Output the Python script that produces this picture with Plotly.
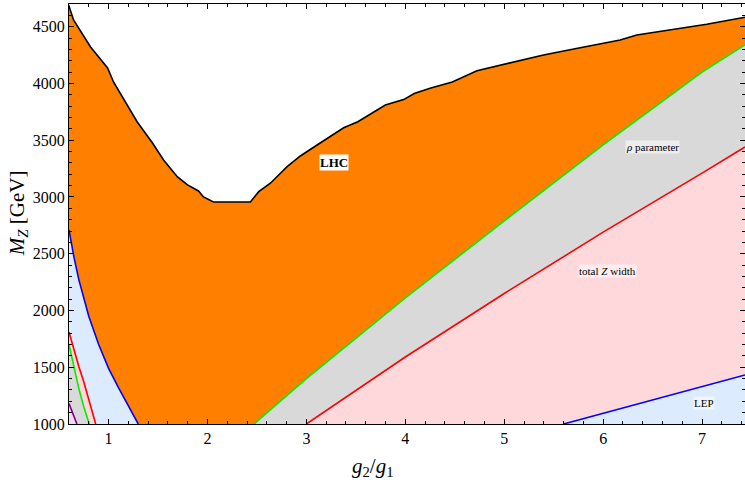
import plotly.graph_objects as go

# ---- data ----
# LHC exclusion boundary (black curve)
lhc_x = [0.596, 0.646, 0.818, 0.99, 1.05, 1.20, 1.29, 1.444, 1.556, 1.697, 1.798, 1.909, 1.96, 2.06,
         2.434, 2.518, 2.636, 2.805, 2.939, 3.108, 3.377, 3.52, 3.798, 3.983, 4.09, 4.25, 4.475,
         4.724, 5.06, 5.195, 5.397, 5.768, 6.172, 6.34, 6.677, 7.047, 7.434]
lhc_y = [4691, 4559, 4321, 4136, 4013, 3793, 3661, 3476, 3326, 3176, 3106, 3053, 3000, 2956,
         2956, 3047, 3121, 3267, 3361, 3458, 3610, 3663, 3810, 3858, 3911, 3958, 4013,
         4112, 4183, 4213, 4251, 4314, 4383, 4427, 4471, 4521, 4583]

# left branch (small g2/g1)
lep_l_x = [0.6, 0.65, 0.7, 0.75, 0.8, 0.9, 1.0, 1.1, 1.2, 1.3]
lep_l_y = [2710, 2470, 2270, 2100, 1950, 1700, 1490, 1320, 1160, 1000]
zw_l_x = [0.6, 0.65, 0.7, 0.75, 0.8, 0.87]
zw_l_y = [1810, 1650, 1505, 1370, 1225, 1000]
rho_l_x = [0.6, 0.65, 0.7, 0.75, 0.805]
rho_l_y = [1700, 1490, 1310, 1150, 1000]
oth_l_x = [0.6, 0.64, 0.68]
oth_l_y = [1180, 1085, 1000]

# right branch (large g2/g1)
rho_r_x = [2.47, 3.0, 4.0, 5.0, 6.0, 7.0, 7.434]
rho_r_y = [1000, 1400, 2110, 2790, 3460, 4100, 4340]
zw_r_x = [3.0, 4.0, 5.0, 6.0, 7.0, 7.434]
zw_r_y = [1000, 1590, 2150, 2690, 3210, 3440]
lep_r_x = [5.6, 6.0, 6.5, 7.0, 7.434]
lep_r_y = [1000, 1094, 1212, 1330, 1432]

x_ticks = [1, 2, 3, 4, 5, 6, 7]
labels = ["LHC", "<i>ρ</i> parameter", "total <i>Z</i> width", "LEP"]
label_x = [3.28, 6.50, 6.04, 7.02]
label_y = [3300, 3443, 2348, 1188]

# ---- styles ----
ORANGE = "#FF8000"
GRAY = "#D9D9D9"
PINK = "#FFD8DB"
LBLUE = "#DDEBFF"
LAV = "#F0DDEE"
GREEN = "#00F000"
SERIF = "Liberation Serif"

fig = go.Figure()

def band(x, y, fillcolor, linecolor, width=1.6):
    fig.add_trace(go.Scatter(x=x, y=y, mode="lines", fill="tozeroy",
                             fillcolor=fillcolor,
                             line=dict(color=linecolor, width=width),
                             hoverinfo="skip", showlegend=False))

band(lhc_x, lhc_y, ORANGE, "black", 1.6)
# left side: highest curve first
band(lep_l_x, lep_l_y, LBLUE, "#0000FF")
band(zw_l_x, zw_l_y, PINK, "#FF0000")
band(rho_l_x, rho_l_y, GRAY, GREEN)
band(oth_l_x, oth_l_y, LAV, "#800080")
# right side: highest curve first
band(rho_r_x, rho_r_y, GRAY, GREEN)
band(zw_r_x, zw_r_y, PINK, "#FF0000")
band(lep_r_x, lep_r_y, LBLUE, "#0000FF")

for i, (t, x, y) in enumerate(zip(labels, label_x, label_y)):
    bold = i == 0
    fig.add_annotation(x=x, y=y, text=("<b>%s</b>" % t) if bold else t,
                       showarrow=False,
                       font=dict(family=SERIF, size=13 if bold else 11, color="black"),
                       bgcolor="white" if bold else "rgba(255,255,255,0.55)",
                       borderpad=0)

# axis titles as paper-anchored text
fig.add_annotation(xref="paper", yref="paper", x=0.4497, y=-0.1024,
                   text="<i>g</i><sub>2</sub>/<i>g</i><sub>1</sub>", showarrow=False,
                   xanchor="center", yanchor="middle",
                   font=dict(family=SERIF, size=21, color="black"))
fig.add_annotation(xref="paper", yref="paper", x=-0.0754, y=0.502,
                   text="<i>M</i><sub><i>Z</i></sub> [GeV]", showarrow=False, textangle=-90,
                   xanchor="center", yanchor="middle",
                   font=dict(family=SERIF, size=21, color="black"))

axis_common = dict(showgrid=False, zeroline=False, showline=True, linecolor="black",
                   linewidth=1, mirror="ticks", ticks="inside", ticklen=5,
                   tickcolor="black", tickwidth=1, automargin=False,
                   tickfont=dict(family=SERIF, size=16, color="black"))

fig.update_layout(
    width=745, height=487,
    margin=dict(l=69, r=0, t=4, b=63),
    paper_bgcolor="white", plot_bgcolor="white",
    xaxis=dict(range=[0.6, 7.434], tickvals=x_ticks,
               minor=dict(tick0=0, dtick=0.2, ticks="inside", ticklen=3, tickcolor="black"),
               **axis_common),
    yaxis=dict(range=[1000, 4700], tick0=0, dtick=500,
               minor=dict(tick0=0, dtick=100, ticks="inside", ticklen=3, tickcolor="black"),
               **axis_common),
)

fig.write_html("out.html", config={"displayModeBar": False},
               post_script="document.body.style.margin='0px';document.body.style.overflow='hidden';")
